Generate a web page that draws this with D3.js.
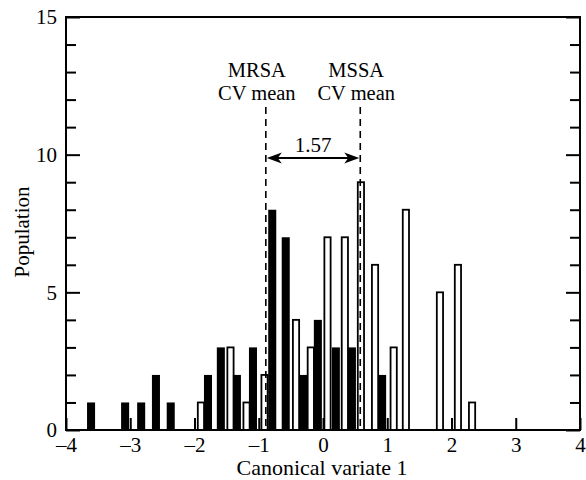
<!DOCTYPE html>
<html>
<head>
<meta charset="utf-8">
<script src="https://cdn.jsdelivr.net/npm/d3@7"></script>
<style>
  html, body { margin: 0; padding: 0; background: #fff; }
  svg { display: block; }
  text { font-family: "Liberation Serif", "Times New Roman", serif; fill: #000; }
</style>
</head>
<body>
<svg id="chart" width="586" height="480"></svg>
<script>
// ---- data ----
// MRSA (filled black bars): bin position on canonical variate 1, population
const mrsaX = [-3.61, -3.08, -2.83, -2.60, -2.37, -1.79, -1.59, -1.34, -1.09, -0.79, -0.58, -0.31, -0.08, 0.20, 0.45, 0.92];
const mrsaN = [1, 1, 1, 2, 1, 2, 3, 2, 3, 8, 7, 2, 4, 3, 3, 2];
// MSSA (open bars)
const mssaX = [-1.90, -1.44, -1.19, -0.91, -0.42, -0.19, 0.07, 0.34, 0.59, 0.81, 1.10, 1.29, 1.82, 2.10, 2.32];
const mssaN = [1, 3, 1, 2, 4, 3, 7, 7, 9, 6, 3, 8, 5, 6, 1];
// group means
const meanLabels = ["MRSA", "MSSA"];
const meanValues = [-0.89, 0.58];
const meanDiffLabel = "1.57";
const xTicks = [-4, -3, -2, -1, 0, 1, 2, 3, 4];
const yTicksMajor = [0, 5, 10, 15];
const yTicksMinor = [1, 2, 3, 4, 6, 7, 8, 9, 11, 12, 13, 14];

// ---- layout ----
const svg = d3.select("#chart");
const L = 66, R = 580, T = 17, B = 430;
const x = d3.scaleLinear().domain([-4, 4]).range([L, R]);
const y = d3.scaleLinear().domain([0, 15]).range([B, T]);
const barW = 0.125; // in data units
const fmt = d => (d < 0 ? "\u2013" + Math.abs(d) : String(d));

// bars: open MSSA
svg.append("g").selectAll("rect").data(mssaX).join("rect")
  .attr("x", (d) => x(d - barW / 2) + 0.9)
  .attr("y", (d, i) => y(mssaN[i]))
  .attr("width", x(barW) - x(0) - 1.8)
  .attr("height", (d, i) => y(0) - y(mssaN[i]))
  .attr("fill", "#fff").attr("stroke", "#000").attr("stroke-width", 1.8);

// bars: filled MRSA
svg.append("g").selectAll("rect").data(mrsaX).join("rect")
  .attr("x", (d) => x(d - barW / 2))
  .attr("y", (d, i) => y(mrsaN[i]))
  .attr("width", x(barW) - x(0))
  .attr("height", (d, i) => y(0) - y(mrsaN[i]))
  .attr("fill", "#000");

// frame
svg.append("rect").attr("x", L).attr("y", T).attr("width", R - L).attr("height", B - T)
  .attr("fill", "none").attr("stroke", "#000").attr("stroke-width", 2);

// axes with inward ticks
const gx = svg.append("g").attr("transform", `translate(0,${B})`)
  .call(d3.axisBottom(x).tickValues(xTicks).tickSizeInner(-12).tickSizeOuter(0).tickPadding(7).tickFormat(fmt));
const gy = svg.append("g").attr("transform", `translate(${L},0)`)
  .call(d3.axisLeft(y).tickValues(yTicksMajor).tickSizeInner(-14).tickSizeOuter(0).tickPadding(9));
const gyMinor = svg.append("g").attr("transform", `translate(${L},0)`)
  .call(d3.axisLeft(y).tickValues(yTicksMinor).tickSizeInner(-10).tickSizeOuter(0).tickFormat(""));
const gyR = svg.append("g").attr("transform", `translate(${R},0)`)
  .call(d3.axisRight(y).tickValues(yTicksMajor).tickSizeInner(-14).tickSizeOuter(0).tickFormat(""));
const gyRMinor = svg.append("g").attr("transform", `translate(${R},0)`)
  .call(d3.axisRight(y).tickValues(yTicksMinor).tickSizeInner(-10).tickSizeOuter(0).tickFormat(""));

[gx, gy, gyMinor, gyR, gyRMinor].forEach(g => {
  g.select(".domain").remove();
  g.selectAll(".tick line").attr("stroke", "#000").attr("stroke-width", 2);
  g.selectAll(".tick text").attr("font-family", "Liberation Serif").attr("font-size", 21).attr("fill", "#000");
});

// axis titles
svg.append("text").attr("x", (L + R) / 2 - 1).attr("y", 475).attr("text-anchor", "middle")
  .attr("font-size", 22).text("Canonical variate 1");
svg.append("text").attr("transform", `translate(29,232) rotate(-90)`)
  .attr("text-anchor", "middle").attr("font-size", 21).text("Population");

// mean lines
svg.append("g").selectAll("line").data(meanValues).join("line")
  .attr("x1", d => x(d)).attr("x2", d => x(d))
  .attr("y1", 107).attr("y2", y(0))
  .attr("stroke", "#000").attr("stroke-width", 1.6).attr("stroke-dasharray", "7,5");

// labels above mean lines
const offs = [-9, -4];
const lab = svg.append("g").selectAll("g").data(meanValues).join("g");
lab.append("text").attr("x", (d, i) => x(d) + offs[i]).attr("y", 77).attr("text-anchor", "middle")
  .attr("font-size", 20.5).text((d, i) => meanLabels[i]);
lab.append("text").attr("x", (d, i) => x(d) + offs[i]).attr("y", 100).attr("text-anchor", "middle")
  .attr("font-size", 20.5).text("CV mean");

// double arrow
const ay = 158;
const ax1 = x(meanValues[0]) + 1, ax2 = x(meanValues[1]) - 1;
svg.append("line").attr("x1", ax1 + 6).attr("x2", ax2 - 6).attr("y1", ay).attr("y2", ay)
  .attr("stroke", "#000").attr("stroke-width", 2);
svg.append("path").attr("d", `M${ax1},${ay} L${ax1 + 15},${ay - 5.5} L${ax1 + 11},${ay} L${ax1 + 15},${ay + 5.5} Z`).attr("fill", "#000");
svg.append("path").attr("d", `M${ax2},${ay} L${ax2 - 15},${ay - 5.5} L${ax2 - 11},${ay} L${ax2 - 15},${ay + 5.5} Z`).attr("fill", "#000");
svg.append("text").attr("x", (ax1 + ax2) / 2).attr("y", 152).attr("text-anchor", "middle")
  .attr("font-size", 21).text(meanDiffLabel);
</script>
</body>
</html>
